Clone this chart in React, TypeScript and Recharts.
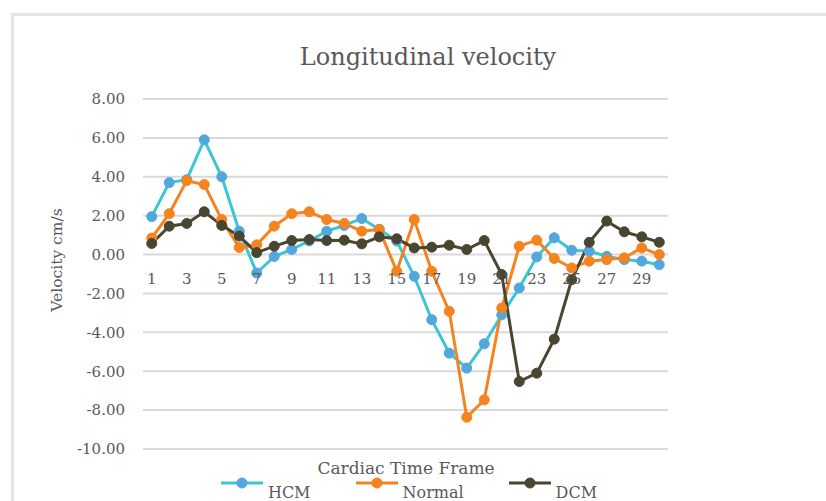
import React from "react";
import { LineChart, Line, XAxis, YAxis, CartesianGrid } from "recharts";

const frames = Array.from({ length: 30 }, (_, i) => String(i + 1));
const hcm = [1.95, 3.7, 3.85, 5.9, 4.0, 1.2, -0.95, -0.1, 0.26, 0.7, 1.2, 1.5, 1.85, 1.3, 0.7, -1.12, -3.35, -5.07, -5.84, -4.59, -3.1, -1.72, -0.12, 0.86, 0.22, 0.17, -0.09, -0.26, -0.34, -0.52];
const normal = [0.85, 2.1, 3.8, 3.6, 1.8, 0.36, 0.5, 1.46, 2.1, 2.2, 1.8, 1.6, 1.2, 1.29, -0.86, 1.8, -0.86, -2.92, -8.37, -7.47, -2.75, 0.43, 0.74, -0.2, -0.69, -0.34, -0.26, -0.17, 0.34, 0.0];
const dcm = [0.57, 1.46, 1.6, 2.2, 1.5, 0.95, 0.1, 0.43, 0.72, 0.77, 0.72, 0.74, 0.55, 0.91, 0.81, 0.34, 0.38, 0.48, 0.26, 0.72, -1.03, -6.53, -6.1, -4.35, -1.29, 0.63, 1.72, 1.17, 0.91, 0.63];
const yTicks = [-10, -8, -6, -4, -2, 0, 2, 4, 6, 8];

const data = frames.map((f, i) => ({ frame: f, HCM: hcm[i], Normal: normal[i], DCM: dcm[i] }));

const W = 826;
const H = 501;
const X_AXIS_H = 30;
const M = { top: 99, right: 158, bottom: 52 - X_AXIS_H, left: 0 };
const Y_MIN = -10;
const Y_MAX = 8;
const plotH = H - M.top - M.bottom - X_AXIS_H;
const zeroY = M.top + (plotH * Y_MAX) / (Y_MAX - Y_MIN);

const FONT = "'DejaVu Serif', serif";
const TEXT = "#595959";

const series = [
  { key: "HCM", line: "#3CC6D3", dot: "#52A8DD" },
  { key: "Normal", line: "#F5831F", dot: "#F5831F" },
  { key: "DCM", line: "#4A4531", dot: "#4A4531" },
];

const XTick = (props: any) => {
  const { x, payload } = props;
  return (
    <text x={x} y={zeroY + 29} textAnchor="middle" fontFamily={FONT} fontSize={15} fill={TEXT}>
      {payload.value}
    </text>
  );
};

export default function App() {
  return (
    <div style={{ position: "absolute", left: 0, top: 0, width: W, height: H, background: "#fff", overflow: "hidden" }}>
      <div
        style={{
          position: "absolute",
          left: 11,
          top: 13,
          width: W,
          height: H,
          borderLeft: "3px solid #e4e4e4",
          borderTop: "3px solid #e4e4e4",
        }}
      />
      <div
        style={{
          position: "absolute",
          left: 228,
          width: 400,
          top: 45,
          textAlign: "center",
          fontFamily: FONT,
          fontSize: 24,
          lineHeight: "24px",
          color: TEXT,
          whiteSpace: "nowrap",
        }}
      >
        Longitudinal velocity
      </div>
      <div style={{ position: "absolute", left: 0, top: 0 }}>
        <LineChart width={W} height={H} data={data} margin={M}>
          <CartesianGrid vertical={false} stroke="#d9d9d9" strokeWidth={2} />
          <YAxis
            width={143}
            domain={[Y_MIN, Y_MAX]}
            ticks={yTicks}
            tickFormatter={(v: number) => v.toFixed(2)}
            axisLine={false}
            tickLine={false}
            tickSize={6}
            tickMargin={12}
            tick={{ fontFamily: FONT, fontSize: 15, fill: TEXT }}
          />
          <XAxis
            dataKey="frame"
            height={X_AXIS_H}
            interval={1}
            axisLine={false}
            tickLine={false}
            padding={{ left: 8.75, right: 8.75 }}
            tick={XTick}
          />
          {series.map((s) => (
            <Line
              key={s.key}
              dataKey={s.key}
              type="linear"
              stroke={s.line}
              strokeWidth={3}
              dot={{ r: 5, fill: s.dot, stroke: s.dot, strokeWidth: 1 }}
              isAnimationActive={false}
            />
          ))}
        </LineChart>
      </div>
      <div
        style={{
          position: "absolute",
          left: 57,
          top: 260,
          transform: "translate(-50%, -50%) rotate(-90deg)",
          fontFamily: FONT,
          fontSize: 15.5,
          color: TEXT,
          whiteSpace: "nowrap",
        }}
      >
        Velocity cm/s
      </div>
      <div
        style={{
          position: "absolute",
          left: 0,
          width: 812,
          top: 460,
          textAlign: "center",
          fontFamily: FONT,
          fontSize: 17,
          lineHeight: "17px",
          color: TEXT,
          whiteSpace: "nowrap",
        }}
      >
        Cardiac Time Frame
      </div>
      <div
        style={{
          position: "absolute",
          left: 3,
          width: 812,
          top: 474,
          display: "flex",
          justifyContent: "center",
          gap: 45,
        }}
      >
        {series.map((s) => (
          <div key={s.key} style={{ display: "flex", alignItems: "flex-start" }}>
            <svg width={42} height={18} style={{ marginRight: 5 }}>
              <line x1={0} y1={9} x2={42} y2={9} stroke={s.line} strokeWidth={3} />
              <circle cx={21} cy={9} r={5} fill={s.dot} stroke={s.dot} />
            </svg>
            <span
              style={{
                fontFamily: FONT,
                fontSize: 16,
                lineHeight: "16px",
                marginTop: 10.5,
                color: TEXT,
              }}
            >
              {s.key}
            </span>
          </div>
        ))}
      </div>
    </div>
  );
}
